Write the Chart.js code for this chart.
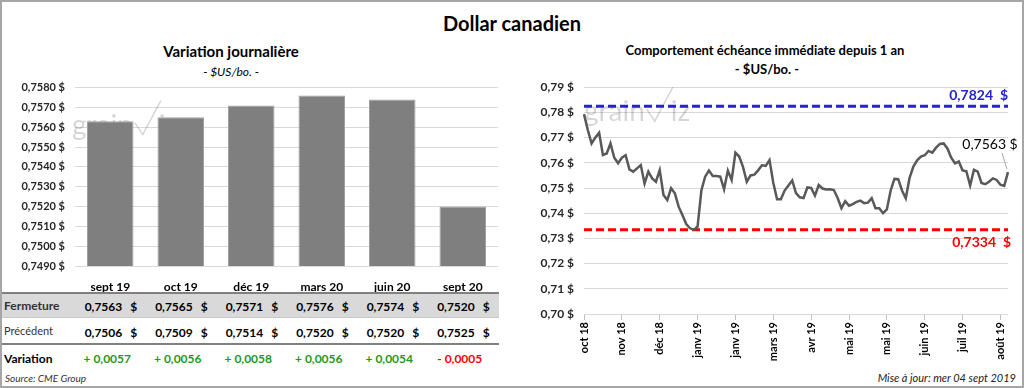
<!DOCTYPE html>
<html lang="fr">
<head>
<meta charset="utf-8">
<title>Dollar canadien</title>
<script src="https://cdn.jsdelivr.net/npm/chart.js@4.4.1/dist/chart.umd.min.js"></script>
<style>
    html, body { margin: 0; padding: 0; background: #fff; }
    body { font-family: Lato, "Open Sans", sans-serif; color: #000; }
    #page { position: relative; width: 1024px; height: 388px; overflow: hidden; }
    #frame { position: absolute; left: 0; top: 0; width: 1024px; height: 388px; box-sizing: border-box; border: 2px solid #a6a6a6; pointer-events: none; }
    .txt { position: absolute; white-space: nowrap; transform: translate(-50%, -50%); }
    .abs { position: absolute; white-space: nowrap; }
    canvas { position: absolute; }
    .bar { position: absolute; left: 2px; width: 497px; }
    .cell { position: absolute; display: flex; transform: translateY(-50%); font-size: 12px; font-weight: bold; }
    .cell .num { width: 40px; text-align: right; }
    .cell .cur { margin-left: 8px; }
    .chg { position: absolute; transform: translate(-50%, -50%); font-size: 12px; font-weight: bold; white-space: nowrap; }
</style>
</head>
<body>
<div id="page">
    <div class="txt" style="left:512px; top:23px; font-size:20px; font-weight:bold;">Dollar canadien</div>

    <div class="txt" style="left:231px; top:51px; font-size:15px; font-weight:bold;">Variation journalière</div>
    <div class="txt" style="left:231px; top:71px; font-size:12px; font-style:italic;">- $US/bo. -</div>

    <div class="txt" style="left:765px; top:50px; font-size:13px; font-weight:bold;">Comportement échéance immédiate depuis 1 an</div>
    <div class="txt" style="left:767px; top:69px; font-size:13px; font-weight:bold;">- $US/bo. -</div>

    <canvas id="barChart" width="512" height="225" style="left:0; top:71px;"></canvas>
    <canvas id="lineChart" width="512" height="298" style="left:512px; top:70px;"></canvas>

    <!-- table under the bar chart -->
    <div class="bar" style="top:292px; height:2px; background:#808080;"></div>
    <div class="bar" style="top:294px; height:23px; background:#d9d9d9;"></div>
    <div class="bar" style="top:317px; height:1px; background:#c8c8c8;"></div>
    <div class="bar" style="top:343px; height:2px; background:#808080;"></div>

    <div class="abs" style="left:4px; top:298px; font-size:12px; font-weight:bold; color:#333;">Fermeture</div>
    <div class="abs" style="left:4px; top:324px; font-size:11px; color:#333;">Précédent</div>
    <div class="abs" style="left:4px; top:351px; font-size:12px; font-weight:bold;">Variation</div>
    <div id="tableCells"></div>

    <div class="abs" style="left:5px; top:372px; font-size:10px; font-style:italic; color:#333;">Source: CME Group</div>
    <div class="abs" style="right:8px; top:371px; font-size:11px; font-style:italic; color:#222;">Mise à jour: mer 04 sept 2019</div>

    <div id="frame"></div>
</div>

<script>
// ====== Data ======
const contractMonths = ['sept 19', 'oct 19', 'déc 19', 'mars 20', 'juin 20', 'sept 20'];
const closeValues = [0.7563, 0.7565, 0.7571, 0.7576, 0.7574, 0.7520];
const prevValues = [0.7506, 0.7509, 0.7514, 0.7520, 0.7520, 0.7525];
const changeValues = [0.0057, 0.0056, 0.0058, 0.0056, 0.0054, -0.0005];

const barTicksMin = 0.749;
const barTicksMax = 0.758;

// front month, one point every two sessions
const dailyTicks = ['oct 18', 'nov 18', 'déc 18', 'janv 19', 'janv 19', 'mars 19',
    'avr 19', 'mai 19', 'mai 19', 'juin 19', 'juil 19', 'août 19'];
const dailyCloses = [
    0.7793, 0.7730, 0.7677, 0.7700, 0.7719, 0.7631, 0.7637, 0.7677, 0.7620, 0.7598,
    0.7620, 0.7630, 0.7574, 0.7565, 0.7578, 0.7591, 0.7518, 0.7565, 0.7538, 0.7525,
    0.7571, 0.7472, 0.7452, 0.7499, 0.7479, 0.7426, 0.7393, 0.7357, 0.7340, 0.7334,
    0.7347, 0.7490, 0.7545, 0.7569, 0.7548, 0.7548, 0.7545, 0.7495, 0.7569, 0.7532,
    0.7640, 0.7625, 0.7584, 0.7525, 0.7550, 0.7553, 0.7570, 0.7590, 0.7588, 0.7611,
    0.7521, 0.7455, 0.7455, 0.7490, 0.7510, 0.7530, 0.7480, 0.7463, 0.7460, 0.7502,
    0.7500, 0.7470, 0.7512, 0.7498, 0.7494, 0.7495, 0.7492, 0.7460, 0.7420, 0.7448,
    0.7430, 0.7436, 0.7445, 0.7450, 0.7440, 0.7442, 0.7460, 0.7420, 0.7420, 0.7400,
    0.7415, 0.7490, 0.7536, 0.7535, 0.7490, 0.7459, 0.7540, 0.7585, 0.7610, 0.7625,
    0.7630, 0.7647, 0.7640, 0.7660, 0.7675, 0.7677, 0.7657, 0.7620, 0.7598, 0.7605,
    0.7570, 0.7566, 0.7510, 0.7572, 0.7565, 0.7520, 0.7515, 0.7525, 0.7538, 0.7532,
    0.7513, 0.7508, 0.7563
];
const yearHigh = 0.7824;
const yearLow = 0.7334;

const fmt = (v, d) => v.toFixed(d).replace('.', ',');

Chart.defaults.font.family = 'Lato, "Open Sans", sans-serif';
Chart.defaults.color = '#262626';

// ====== Watermark ======
const watermark = {
    id: 'watermark',
    beforeDatasetsDraw(chart, args, opts) {
        const { ctx, chartArea } = chart;
        const x = chartArea.left + opts.dx;
        const y = chartArea.top + opts.dy;
        ctx.save();
        ctx.font = '28px Lato, sans-serif';
        ctx.fillStyle = 'rgba(0,0,0,0.16)';
        ctx.strokeStyle = 'rgba(0,0,0,0.16)';
        ctx.textBaseline = 'alphabetic';
        ctx.fillText('grain', x, y);
        const w = ctx.measureText('grain').width;
        ctx.lineWidth = 1.5;
        ctx.beginPath();
        ctx.moveTo(x + w + 2, y - 12);
        ctx.lineTo(x + w + 10, y);
        ctx.lineTo(x + w + 28, y - 34);
        ctx.stroke();
        ctx.fillText('iz', x + w + 26, y);
        ctx.restore();
    }
};

// ====== Table under the bars ======
const cellsBox = document.getElementById('tableCells');
const tableCells = contractMonths.map((m, i) => {
    const close = document.createElement('div');
    close.className = 'cell';
    close.style.top = '305.5px';
    close.innerHTML = '<span class="num">' + fmt(closeValues[i], 4) + '</span><span class="cur">$</span>';
    const prev = document.createElement('div');
    prev.className = 'cell';
    prev.style.top = '331.5px';
    prev.innerHTML = '<span class="num">' + fmt(prevValues[i], 4) + '</span><span class="cur">$</span>';
    const chg = document.createElement('div');
    chg.className = 'chg';
    chg.style.top = '358px';
    const c = changeValues[i];
    chg.style.color = c < 0 ? '#ff0000' : '#1e9a1e';
    chg.textContent = (c < 0 ? '- ' : '+ ') + fmt(Math.abs(c), 4);
    cellsBox.append(close, prev, chg);
    return { close, prev, chg };
});

const tablePlacer = {
    id: 'tablePlacer',
    afterDraw(chart) {
        const xs = chart.scales.x;
        tableCells.forEach((cells, i) => {
            const cx = xs.getPixelForValue(i) + chart.canvas.offsetLeft;
            cells.close.style.left = (cx - 28) + 'px';
            cells.prev.style.left = (cx - 28) + 'px';
            cells.chg.style.left = (cx - 3) + 'px';
        });
    }
};

// ====== Bar chart (Variation journalière) ======
new Chart(document.getElementById('barChart'), {
    type: 'bar',
    data: {
        labels: contractMonths,
        datasets: [{
            data: closeValues,
            backgroundColor: '#7f7f7f',
            borderColor: '#a0a0a0',
            borderWidth: 1,
            barPercentage: 0.66,
            categoryPercentage: 1
        }]
    },
    options: {
        responsive: false,
        animation: false,
        layout: { padding: { top: 0, right: 14, left: 0, bottom: 0 } },
        plugins: {
            legend: { display: false },
            tooltip: { enabled: false },
            watermark: { dx: -3, dy: 47 }
        },
        scales: {
            x: {
                grid: { display: false, drawTicks: false },
                border: { display: false },
                ticks: { font: { size: 12, weight: 'bold' }, color: '#000', padding: 14 },
                afterFit: s => { s.height = 30; }
            },
            y: {
                min: barTicksMin,
                max: barTicksMax,
                grid: { color: '#d9d9d9', drawTicks: false },
                border: { display: false },
                ticks: {
                    stepSize: 0.001,
                    padding: 10,
                    font: { size: 11, weight: 'bold' },
                    callback: v => fmt(v, 4) + ' $'
                },
                afterFit: s => { s.width = 75; }
            }
        }
    },
    plugins: [watermark, tablePlacer]
});

// ====== Reference lines and labels on the line chart ======
const refLines = {
    id: 'refLines',
    beforeDatasetsDraw(chart) {
        const { ctx, chartArea, scales } = chart;
        [[yearHigh, '#2424c8'], [yearLow, '#ff0000']].forEach(([v, col]) => {
            const y = scales.y.getPixelForValue(v);
            ctx.save();
            ctx.strokeStyle = col;
            ctx.lineWidth = 3;
            ctx.setLineDash([8, 4]);
            ctx.beginPath();
            ctx.moveTo(chartArea.left, y);
            ctx.lineTo(chartArea.right, y);
            ctx.stroke();
            ctx.restore();
        });
    },
    afterDatasetsDraw(chart) {
        const { ctx, chartArea, scales } = chart;
        ctx.save();
        ctx.font = 'bold 14px Lato, sans-serif';
        ctx.textAlign = 'right';
        ctx.textBaseline = 'middle';
        ctx.fillStyle = '#2424c8';
        ctx.fillText(fmt(yearHigh, 4) + '  $', chartArea.right, scales.y.getPixelForValue(yearHigh) - 11);
        ctx.fillStyle = '#ff0000';
        ctx.fillText(fmt(yearLow, 4) + '  $', chartArea.right + 3, scales.y.getPixelForValue(yearLow) + 13);

        // last close with leader line
        const meta = chart.getDatasetMeta(0);
        const p = meta.data[meta.data.length - 1];
        const last = dailyCloses[dailyCloses.length - 1];
        ctx.strokeStyle = '#a6a6a6';
        ctx.lineWidth = 1;
        ctx.beginPath();
        ctx.moveTo(p.x - 6, p.y - 19);
        ctx.lineTo(p.x - 1, p.y - 3);
        ctx.stroke();
        ctx.font = '14px Lato, sans-serif';
        ctx.fillStyle = '#000';
        ctx.textAlign = 'center';
        ctx.fillText(fmt(last, 4) + ' $', p.x - 18, p.y - 28);
        ctx.restore();
    }
};

// ====== Line chart (échéance immédiate) ======
new Chart(document.getElementById('lineChart'), {
    type: 'line',
    data: {
        labels: dailyCloses.map((_, i) => i),
        datasets: [{
            data: dailyCloses,
            borderColor: '#595959',
            borderWidth: 2.5,
            pointRadius: 0,
            tension: 0,
            fill: false
        }]
    },
    options: {
        responsive: false,
        animation: false,
        layout: { padding: { top: 0, right: 16, left: 0, bottom: 0 } },
        plugins: {
            legend: { display: false },
            tooltip: { enabled: false },
            watermark: { dx: 0, dy: 34 }
        },
        scales: {
            x: {
                grid: {
                    drawOnChartArea: false,
                    tickLength: 6,
                    color: c => (c.index % 10 === 0 ? '#bfbfbf' : 'rgba(0,0,0,0)')
                },
                border: { display: false },
                ticks: {
                    autoSkip: false,
                    minRotation: 90,
                    maxRotation: 90,
                    padding: 2,
                    font: { size: 11, weight: 'bold' },
                    color: '#000',
                    callback: (v, i) => (i % 10 === 0 ? dailyTicks[i / 10] : '')
                },
                afterFit: s => { s.height = 54; }
            },
            y: {
                min: 0.70,
                max: 0.79,
                grid: { color: '#d9d9d9', drawTicks: false },
                border: { display: false },
                ticks: {
                    stepSize: 0.01,
                    padding: 10,
                    font: { size: 12, weight: 'bold' },
                    callback: v => fmt(v, 2) + ' $'
                },
                afterFit: s => { s.width = 72; }
            }
        }
    },
    plugins: [watermark, refLines]
});
</script>
</body>
</html>
